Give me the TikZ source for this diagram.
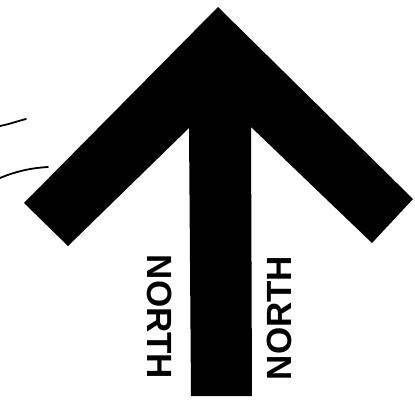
\documentclass[tikz,border=0pt]{standalone}
\usepackage{fontspec}
\newfontfamily\signfont{Liberation Sans}
\usepackage{tikz}

\begin{document}
\begin{tikzpicture}[x=1pt, y=-1pt]
  \tikzstyle{arrowbody} = [fill=black]
  \tikzstyle{northlabel} = [inner sep=0pt,
    font=\signfont\bfseries\fontsize{35}{35}\selectfont]
  \tikzstyle{swoosh} = [line width=1.8pt, line cap=round]

  \useasboundingbox (0,0) rectangle (415,416);

  % the big arrow
  \fill[arrowbody] (218,7) -- (413,199) -- (372,243) -- (251,127)
    -- (252,396) -- (191,396) -- (189,128) -- (68,246) -- (24,203)
    -- cycle;

  % labels either side of the stem
  \node[northlabel, rotate=-90] (northl) at (160,317) {NORTH};
  \node[northlabel, rotate=90] (northr) at (279,318) {NORTH};

  % motion strokes on the left
  \draw[swoosh] (0,126) .. controls (10,124) and (18,121) .. (26,119);
  \draw[swoosh] (0,178) .. controls (14,172) and (30,168) .. (48,167);
\end{tikzpicture}
\end{document}
